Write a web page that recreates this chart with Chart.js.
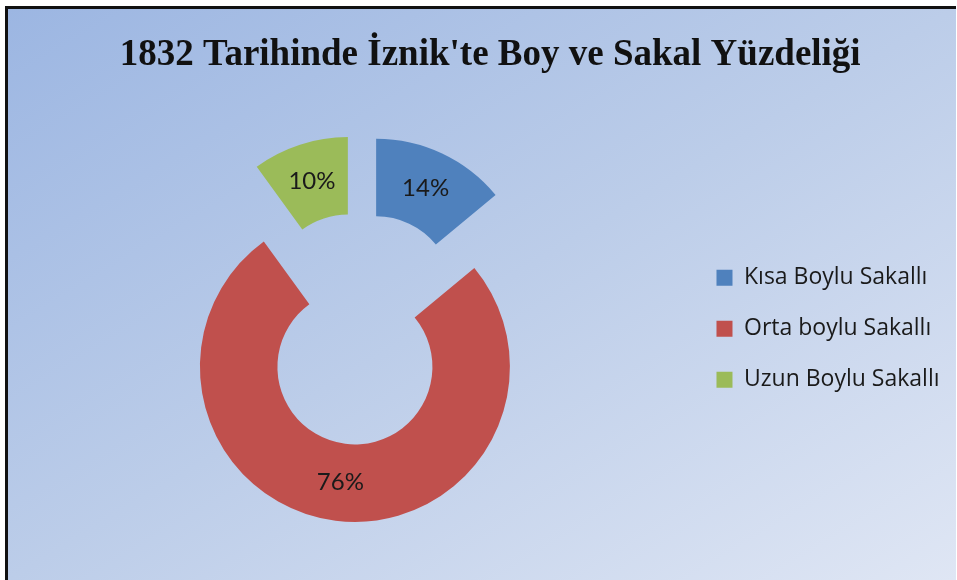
<!DOCTYPE html>
<html>
<head>
<meta charset="utf-8">
<script src="https://cdn.jsdelivr.net/npm/chart.js@4.4.1/dist/chart.umd.min.js"></script>
<style>
  html, body { margin: 0; padding: 0; background: #fff; }
  #frame {
    position: absolute; left: 5px; top: 6px; width: 948px; height: 571px;
    border-left: 3px solid #111; border-top: 3px solid #111;
    background: linear-gradient(to bottom right, #9cb6e2 0%, #bccde9 50%, #dfe6f4 100%);
  }
  #wrap { position: absolute; left: 0; top: 0; width: 957px; height: 580px; }
</style>
</head>
<body>
<div id="frame"></div>
<div id="wrap"><canvas id="beardChart"></canvas></div>
<script>
const chartTitle = "1832 Tarihinde İznik'te Boy ve Sakal Yüzdeliği";
const categories = ['Kısa Boylu Sakallı', 'Orta boylu Sakallı', 'Uzun Boylu Sakallı'];
const shares = [14, 76, 10];
const sliceColors = ['#4f81bd', '#c0504d', '#9bbb59'];

// pull every slice out from the centre along its middle angle (Excel style explosion)
const EXPLODE = 38.5;
const explodeSlices = {
    id: 'explodeSlices',
    afterUpdate(chart) {
        chart.getDatasetMeta(0).data.forEach(arc => {
            const mid = (arc.startAngle + arc.endAngle) / 2;
            arc.x += Math.cos(mid) * EXPLODE;
            arc.y += Math.sin(mid) * EXPLODE;
        });
    }
};

const percentLabels = {
    id: 'percentLabels',
    afterDatasetsDraw(chart) {
        const ctx = chart.ctx;
        ctx.save();
        ctx.font = '24px Lato';
        ctx.fillStyle = '#1a1a1a';
        ctx.textAlign = 'center';
        ctx.textBaseline = 'middle';
        chart.getDatasetMeta(0).data.forEach((arc, i) => {
            const p = arc.getCenterPoint();
            ctx.fillText(shares[i] + '%', p.x, p.y);
        });
        ctx.restore();
    }
};

const ctx = document.getElementById('beardChart').getContext('2d');
new Chart(ctx, {
    type: 'doughnut',
    data: {
        labels: categories,
        datasets: [{
            data: shares,
            backgroundColor: sliceColors,
            borderWidth: 0
        }]
    },
    options: {
        responsive: true,
        maintainAspectRatio: false,
        animation: false,
        events: [],
        radius: 155,
        cutout: '50%',
        layout: {
            padding: { left: 31, right: 7.5, top: 0, bottom: 10 }
        },
        plugins: {
            title: {
                display: true,
                text: chartTitle,
                color: '#111',
                font: { family: 'Liberation Serif', size: 37, weight: 'bold', lineHeight: 1.2 },
                padding: { top: 33, bottom: 10 }
            },
            legend: {
                position: 'right',
                fullSize: false,
                labels: {
                    color: '#1a1a1a',
                    font: { family: 'Open Sans', size: 23 },
                    boxWidth: 16,
                    boxHeight: 16,
                    padding: 28
                }
            },
            tooltip: { enabled: false }
        }
    },
    plugins: [explodeSlices, percentLabels]
});
</script>
</body>
</html>
